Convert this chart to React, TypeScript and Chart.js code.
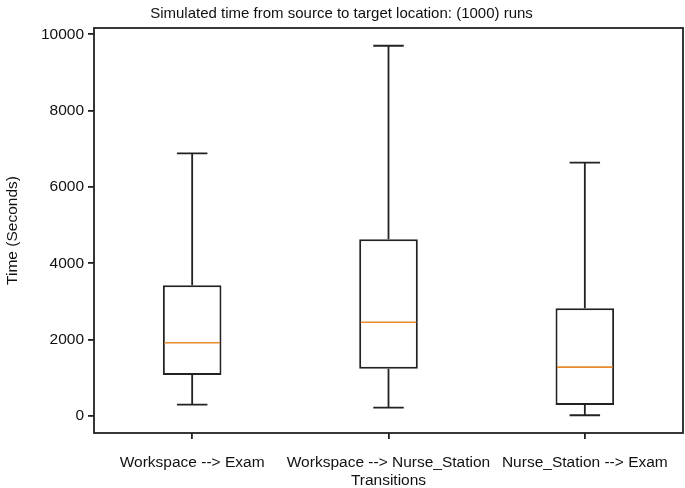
import React, { useEffect, useRef } from "react";
import { Chart, registerables } from "chart.js";

Chart.register(...registerables);

const titleText = "Simulated time from source to target location: (1000) runs";
const categories = ["Workspace --> Exam", "Workspace --> Nurse_Station", "Nurse_Station --> Exam"];
const whiskerLow = [300, 220, 20];
const q1 = [1075, 1240, 290];
const median = [1920, 2455, 1280];
const q3 = [3425, 4630, 2820];
const whiskerHigh = [6880, 9700, 6640];
const yTicks = [0, 2000, 4000, 6000, 8000, 10000];

const LINE = "#222";
const MEDIAN = "#e98a2c";
const FONT = "'Liberation Sans', Arial, sans-serif";

const boxPlugin = {
  id: "boxExtras",
  afterDatasetsDraw(chart: any) {
    const ctx = chart.ctx;
    const y = chart.scales.y;
    const meta = chart.getDatasetMeta(0);
    ctx.save();
    meta.data.forEach((bar: any, i: number) => {
      const cx = bar.x;
      const half = bar.width / 2;
      const cap = bar.width * 0.26;
      ctx.strokeStyle = LINE;
      ctx.lineWidth = 1.8;
      ctx.beginPath();
      ctx.moveTo(cx, y.getPixelForValue(q3[i]));
      ctx.lineTo(cx, y.getPixelForValue(whiskerHigh[i]));
      ctx.moveTo(cx, y.getPixelForValue(q1[i]));
      ctx.lineTo(cx, y.getPixelForValue(whiskerLow[i]));
      ctx.moveTo(cx - cap, y.getPixelForValue(whiskerHigh[i]));
      ctx.lineTo(cx + cap, y.getPixelForValue(whiskerHigh[i]));
      ctx.moveTo(cx - cap, y.getPixelForValue(whiskerLow[i]));
      ctx.lineTo(cx + cap, y.getPixelForValue(whiskerLow[i]));
      ctx.stroke();
      ctx.strokeStyle = MEDIAN;
      ctx.lineWidth = 1.6;
      ctx.beginPath();
      ctx.moveTo(cx - half + 1.5, y.getPixelForValue(median[i]));
      ctx.lineTo(cx + half - 1.5, y.getPixelForValue(median[i]));
      ctx.stroke();
    });
    const a = chart.chartArea;
    ctx.strokeStyle = LINE;
    ctx.lineWidth = 1.8;
    ctx.strokeRect(a.left, a.top, a.right - a.left, a.bottom - a.top);
    ctx.restore();
  },
};

export default function App() {
  const ref = useRef<HTMLCanvasElement | null>(null);
  useEffect(() => {
    if (!ref.current) return;
    const chart = new Chart(ref.current, {
      type: "bar",
      data: {
        labels: categories,
        datasets: [
          {
            data: categories.map((_, i) => [q1[i], q3[i]]) as any,
            backgroundColor: "#ffffff",
            borderColor: LINE,
            borderWidth: 2,
            borderSkipped: false,
            barPercentage: 0.2985,
            categoryPercentage: 1,
          },
        ],
      },
      options: {
        animation: false,
        responsive: false,
        devicePixelRatio: 1,
        layout: { padding: { left: 0, right: 2, top: 0, bottom: 0 } },
        plugins: {
          legend: { display: false },
          tooltip: { enabled: false },
          title: {
            display: true,
            text: titleText,
            color: "#111",
            font: { family: FONT, size: 15, weight: "normal" },
            padding: { top: 5, bottom: 5 },
          },
        },
        scales: {
          x: {
            type: "category",
            offset: true,
            grid: { display: true, drawOnChartArea: false, offset: false, color: LINE, lineWidth: 1.8, tickLength: 6 },
            border: { display: false },
            ticks: { color: "#111", font: { family: FONT, size: 15.5 }, padding: 14, maxRotation: 0, autoSkip: false },
            title: { display: true, text: "Transitions", color: "#111", font: { family: FONT, size: 15.5, lineHeight: 1 }, padding: { top: 0, bottom: 0 } },
            afterFit: (s: any) => { s.height = 55; },
          },
          y: {
            type: "linear",
            min: -445,
            max: 10165,
            grid: { display: true, drawOnChartArea: false, color: LINE, lineWidth: 1.8, tickLength: 6 },
            border: { display: false },
            ticks: {
              color: "#111",
              font: { family: FONT, size: 15.5 },
              padding: 4,
              includeBounds: false,
              callback: (v: any) => String(v),
            },
            afterBuildTicks: (s: any) => { s.ticks = yTicks.map((v) => ({ value: v })); },
            title: { display: true, text: "Time (Seconds)", color: "#111", font: { family: FONT, size: 15.5 }, padding: { top: 3, bottom: 0 } },
            afterFit: (s: any) => { s.width = 94; },
          },
        },
      },
      plugins: [boxPlugin],
    });
    return () => chart.destroy();
  }, []);
  return (
    <div style={{ position: "absolute", left: 0, top: 0, width: 685, height: 488, background: "#fff" }}>
      <canvas ref={ref} width={685} height={488} />
    </div>
  );
}
